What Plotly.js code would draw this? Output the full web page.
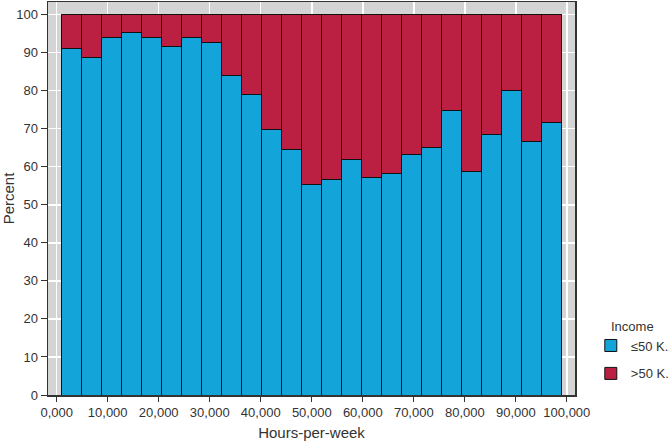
<!DOCTYPE html>
<html>
<head>
<meta charset="utf-8">
<script src="https://cdn.plot.ly/plotly-3.0.1.min.js"></script>
<style>html,body{margin:0;padding:0;background:#fff;}#chart{width:668px;height:442px;}</style>
</head>
<body>
<div id="chart"></div>
<script>
// Hours-per-week bins (range of the data) and share of each income class per bin (%)
const hoursMin = 1;
const hoursMax = 99;
const lowIncomePct  = [91.0, 88.8, 93.9, 95.2, 93.9, 91.6, 93.9, 92.6, 84.0, 78.9, 69.9, 64.4, 55.2,
                       56.7, 61.9, 57.2, 58.3, 63.1, 65.0, 74.9, 58.7, 68.6, 80.0, 66.7, 71.5];
const highIncomePct = [9.0, 11.2, 6.1, 4.8, 6.1, 8.4, 6.1, 7.4, 16.0, 21.1, 30.1, 35.6, 44.8,
                       43.3, 38.1, 42.8, 41.7, 36.9, 35.0, 25.1, 41.3, 31.4, 20.0, 33.3, 28.5];
const seriesNames = ['≤50 K.', '>50 K.'];
const tickValues = [0, 10, 20, 30, 40, 50, 60, 70, 80, 90, 100];
const tickLabels = ['0,000', '10,000', '20,000', '30,000', '40,000', '50,000', '60,000', '70,000', '80,000', '90,000', '100,000'];
const yTicks = [0, 10, 20, 30, 40, 50, 60, 70, 80, 90, 100];

const nBins = lowIncomePct.length;
const binW = (hoursMax - hoursMin) / nBins;
const centers = lowIncomePct.map((_, i) => hoursMin + binW * (i + 0.5));

const FONT = 'Liberation Sans, Arial, sans-serif';
const traces = [
  {type: 'bar', x: centers, y: lowIncomePct, width: binW, name: seriesNames[0], legendgroup: 'a',
   marker: {color: '#13a5d9', line: {color: '#111', width: 1}}},
  {type: 'bar', x: centers, y: highIncomePct, width: binW, name: seriesNames[1], legendgroup: 'b',
   marker: {color: '#bb2043', line: {color: '#111', width: 1}}}
];

const layout = {
  width: 668, height: 442,
  barmode: 'stack', bargap: 0,
  paper_bgcolor: '#ffffff', plot_bgcolor: '#d4d4d4',
  margin: {l: 48, r: 93, t: 2, b: 47, pad: 0, autoexpand: false},
  font: {family: FONT, size: 13, color: '#333'},
  showlegend: true,
  legend: {x: 1.03, xanchor: 'left', y: 0.207, yanchor: 'top',
           title: {text: 'Income', side: 'top center', font: {size: 13, color: '#333'}},
           font: {size: 13, color: '#333'}, bgcolor: 'rgba(0,0,0,0)',
           traceorder: 'grouped', tracegroupgap: 8, itemwidth: 30},
  xaxis: {range: [-1.7, 101.6], tickvals: tickValues, ticktext: tickLabels,
          ticks: 'outside', ticklen: 5, tickcolor: '#333', tickwidth: 1,
          showgrid: true, gridcolor: '#ffffff', gridwidth: 1.5,
          showline: true, linecolor: '#333', linewidth: 1.5, mirror: true,
          zeroline: false, tickfont: {size: 13, color: '#333'},
          title: {text: 'Hours-per-week', standoff: 8, font: {size: 15, color: '#333'}}},
  yaxis: {range: [0, 103.3], tickvals: yTicks,
          ticks: 'outside', ticklen: 6, tickcolor: '#333', tickwidth: 1,
          showgrid: true, gridcolor: '#ffffff', gridwidth: 1.5,
          showline: true, linecolor: '#333', linewidth: 1.5, mirror: true,
          zeroline: false, tickfont: {size: 13, color: '#333'},
          title: {text: 'Percent', standoff: 6, font: {size: 15, color: '#333'}}}
};

Plotly.newPlot('chart', traces, layout, {staticPlot: true, displayModeBar: false});
</script>
</body>
</html>
